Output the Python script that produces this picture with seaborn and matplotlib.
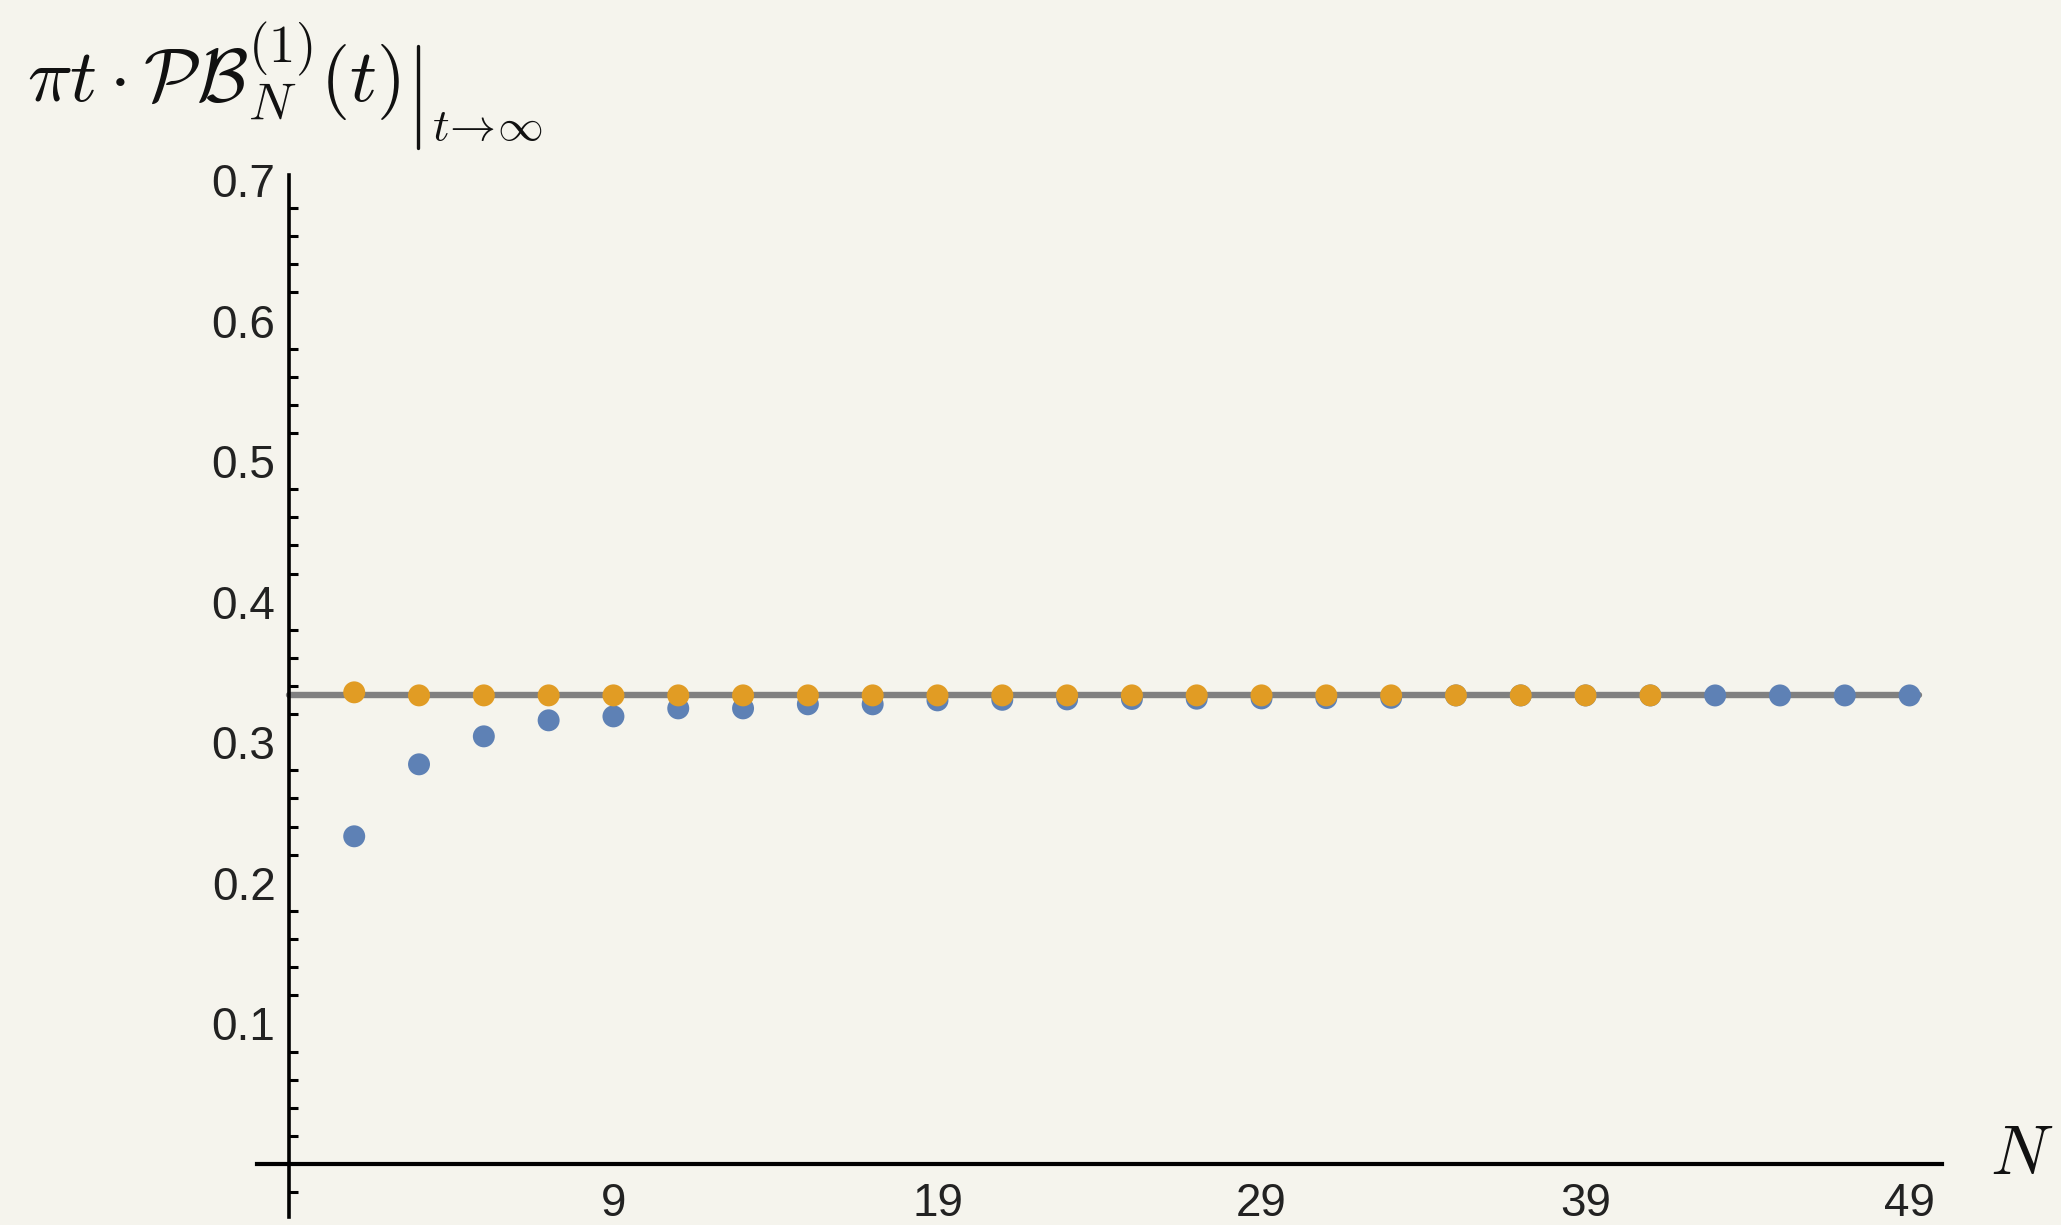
import numpy as np
import pandas as pd
import matplotlib
matplotlib.use("Agg")
import matplotlib.pyplot as plt
import seaborn as sns
from matplotlib.ticker import FixedLocator
from matplotlib.lines import Line2D

# ---- data ----
N_blue = list(range(1, 50, 2))
blue_vals = [0.2331, 0.2843, 0.3042, 0.3156, 0.3184, 0.3241, 0.3241, 0.3270,
             0.3270, 0.3298, 0.3302, 0.3305, 0.3308, 0.3310, 0.3312, 0.3314,
             0.3316, 0.3333, 0.3333, 0.3333, 0.3333, 0.3333, 0.3333, 0.3333, 0.3333]
N_orange = list(range(1, 42, 2))
orange_vals = [0.3355] + [1 / 3] * 20
limit_value = 1 / 3
limit_x = [-1, 49.3]
x_ticks = [9, 19, 29, 39, 49]
y_ticks = [0.1, 0.2, 0.3, 0.4, 0.5, 0.6, 0.7]
y_tick_labels = ["0.1", "0.2", "0.3", "0.4", "0.5", "0.6", "0.7"]

BG = "#F5F4ED"
BLUE = "#5E81B5"
ORANGE = "#E19C24"

sns.set_style("white")
plt.rcParams["font.family"] = ["Liberation Sans", "DejaVu Sans"]
plt.rcParams["mathtext.fontset"] = "cm"

W, H = 2061, 1225
fig = plt.figure(figsize=(W / 100, H / 100), dpi=100, facecolor=BG)
ax = fig.add_axes([257 / W, 8 / H, 1685 / W, 1042 / H])
ax.set_facecolor(BG)

df_line = pd.DataFrame({"N": limit_x, "v": [limit_value] * len(limit_x)})
sns.lineplot(data=df_line, x="N", y="v", color="#808080", linewidth=4.6, ax=ax, zorder=2)

df_b = pd.DataFrame({"N": N_blue, "v": blue_vals})
df_o = pd.DataFrame({"N": N_orange, "v": orange_vals})
sns.scatterplot(data=df_b, x="N", y="v", color=BLUE, s=250, edgecolor="none", ax=ax, zorder=3, clip_on=False)
sns.scatterplot(data=df_o, x="N", y="v", color=ORANGE, s=250, edgecolor="none", ax=ax, zorder=4, clip_on=False)

ax.set_xlim(-2, 50)
ax.set_ylim(-0.0377, 0.7035)

for s in ["top", "right"]:
    ax.spines[s].set_visible(False)
ax.spines["left"].set_position(("data", -1))
ax.spines["bottom"].set_position(("data", 0))
ax.spines["left"].set_linewidth(2.6)
ax.spines["bottom"].set_linewidth(3.0)
ax.spines["left"].set_color("#000000")
ax.spines["bottom"].set_color("#000000")

ax.set_xticks(x_ticks)
ax.set_xticklabels([str(t) for t in x_ticks])
ax.set_yticks(y_ticks)
ax.set_yticklabels(y_tick_labels)
minor = [round(v, 2) for v in np.arange(-0.02, 0.70, 0.02) if abs(round(v * 10) - v * 10) > 1e-6]
ax.yaxis.set_minor_locator(FixedLocator(minor))

ax.tick_params(axis="y", which="major", direction="in", length=11, width=2.4,
               labelsize=33, pad=10, colors="#000000", labelcolor="#222222")
ax.tick_params(axis="y", which="minor", direction="in", length=6.5, width=2.2, colors="#000000", left=True)
ax.tick_params(axis="x", which="major", direction="in", length=10, width=1.6,
               labelsize=33, pad=13, colors="#000000", labelcolor="#222222")

ax.set_xlabel("")
ax.set_ylabel("")

# y-axis label (top-left)
fig.text(27 / W, 1 - 102 / H, r"$\pi t\cdot\mathcal{P}\mathcal{B}_N^{(1)}(t)$",
         fontsize=54, ha="left", va="baseline", color="#111111")
fig.add_artist(Line2D([418 / W, 418 / W], [1 - 46 / H, 1 - 148 / H],
                      transform=fig.transFigure, color="#111111", linewidth=2.4))
fig.text(432 / W, 1 - 140 / H, r"$t\!\to\!\infty$", fontsize=33, ha="left",
         va="baseline", color="#111111")
fig.text(1990 / W, 1 - 1156 / H, r"$N$", fontsize=50, ha="left", va="center", color="#111111")

fig.savefig("out.png", dpi=100, facecolor=BG)
